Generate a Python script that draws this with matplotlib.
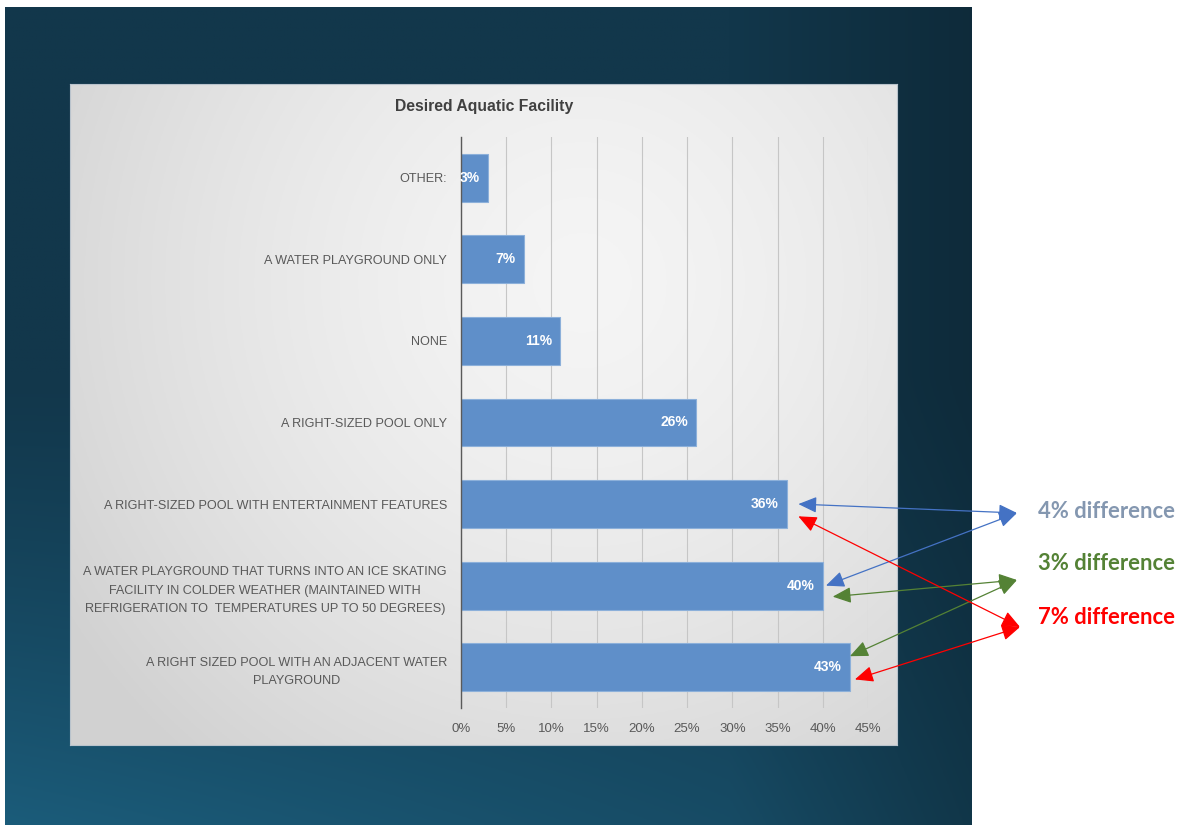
import numpy as np
import matplotlib
import matplotlib.pyplot as plt
from matplotlib.patches import ConnectionPatch
from matplotlib import transforms

W, H = 1182, 825

categories = [
    'OTHER:',
    'A WATER PLAYGROUND ONLY',
    'NONE',
    'A RIGHT-SIZED POOL ONLY',
    'A RIGHT-SIZED POOL WITH ENTERTAINMENT FEATURES',
    'A WATER PLAYGROUND THAT TURNS INTO AN ICE SKATING\nFACILITY IN COLDER WEATHER (MAINTAINED WITH\nREFRIGERATION TO  TEMPERATURES UP TO 50 DEGREES)',
    'A RIGHT SIZED POOL WITH AN ADJACENT WATER\nPLAYGROUND',
]
values = [3, 7, 11, 26, 36, 40, 43]
xticks = [0, 5, 10, 15, 20, 25, 30, 35, 40, 45]

# difference callouts: (text, text colour, arrow colour, [(bar index, dx, dy), ...], head end px, text y px)
notes = [
    ('4% difference', '#8497b0', '#4472c4', [(4, 1.3, 0.0), (5, 0.35, 0.0)], (1017, 513), 511),
    ('3% difference', '#548235', '#548235', [(5, 1.1, -0.135), (6, 0.0, 0.135)], (1017, 580), 564),
    ('7% difference', '#ff0000', '#ff0000', [(4, 1.3, -0.15), (6, 0.55, -0.15)], (1020, 627), 617),
]

label_font = ['Liberation Sans Narrow', 'Liberation Sans', 'DejaVu Sans']


def fx(px):
    return px / W


def fy(py):
    return 1 - py / H


fig = plt.figure(figsize=(W / 100, H / 100), dpi=100)
fig.patch.set_facecolor('white')

# dark slide backdrop
bg = fig.add_axes([fx(5), 0, fx(972) - fx(5), fy(7)])
gx, gy = np.meshgrid(np.linspace(0, 1, 300), np.linspace(0, 1, 300))
top = np.array([0x12, 0x37, 0x4b]) / 255
bot = np.array([0x1b, 0x5c, 0x7a]) / 255
t = np.clip((gy - 0.45) / 0.55, 0, 1) ** 1.2 * (1 - 0.6 * gx)
img = top * (1 - t[..., None]) + bot * t[..., None]
dark = 1 - 0.22 * np.clip((gx - 0.75) / 0.25, 0, 1)
img = img * dark[..., None]
bg.imshow(img, aspect='auto', extent=[0, 1, 1, 0])
bg.axis('off')

# light chart panel
pn = fig.add_axes([fx(70), fy(745), fx(897) - fx(70), fy(84) - fy(745)])
px_, py_ = np.meshgrid(np.linspace(0, 1, 300), np.linspace(0, 1, 300))
r = np.sqrt(((px_ - 0.62) / 0.75) ** 2 + ((py_ - 0.3) / 0.95) ** 2)
shade = 0.96 - 0.14 * np.clip(r, 0, 1) ** 1.5
pn.imshow(np.dstack([shade, shade, shade]), aspect='auto', extent=[0, 1, 1, 0])
pn.set_xticks([])
pn.set_yticks([])
for s in pn.spines.values():
    s.set_color('#b9c3cc')
    s.set_linewidth(0.8)

# bar chart
ax = fig.add_axes([fx(461), fy(708), fx(868) - fx(461), fy(137) - fy(708)])
ax.patch.set_alpha(0)
ypos = np.arange(len(categories))[::-1]
ax.barh(ypos, values, height=0.585, color='#5f8fc9', edgecolor='#8cb0da',
        linewidth=0.8, zorder=3)
ax.set_xlim(0, 45)
ax.set_ylim(-0.5, len(categories) - 0.5)
ax.set_xticks(xticks)
ax.set_xticklabels([f'{v}%' for v in xticks], family=label_font,
                   fontsize=9.5, color='#595959')
ax.set_yticks(ypos)
ax.set_yticklabels(categories, family=label_font, fontsize=9.1, color='#595959',
                   linespacing=1.75)
for lab in ax.get_yticklabels():
    lab.set_multialignment('center')
ax.tick_params(axis='x', length=0, pad=11)
ax.tick_params(axis='y', length=0, pad=10)
ax.grid(axis='x', color='#c6c6c6', linewidth=0.8, zorder=0)
for side in ['top', 'right', 'bottom']:
    ax.spines[side].set_visible(False)
ax.spines['left'].set_color('#5a5a5a')
ax.spines['left'].set_linewidth(1.0)
ax.spines['left'].set_zorder(4)

inside = transforms.offset_copy(ax.transData, fig=fig, x=-6, y=0, units='points')
for v, y in zip(values, ypos):
    ax.text(v, y, f'{v}%', transform=inside, ha='right', va='center',
            color='white', fontsize=10, fontweight='bold', family=label_font,
            zorder=5)

fig.text(fx(484), fy(107), 'Desired Aquatic Facility', ha='center', va='center',
         fontsize=11.3, fontweight='bold', color='#404040',
         family=['Liberation Sans', 'DejaVu Sans'])

# callout text and double-headed arrows
for text, tcol, acol, ends, head, ty in notes:
    fig.text(fx(1038), fy(ty), text, ha='left', va='center', fontsize=15.8,
             fontweight='bold', color=tcol, family=['Lato', 'DejaVu Sans'])
    for idx, dx, dy in ends:
        con = ConnectionPatch(xyA=(values[idx] + dx, ypos[idx] + dy),
                              coordsA=ax.transData,
                              xyB=(fx(head[0]), fy(head[1])),
                              coordsB=fig.transFigure,
                              arrowstyle='<|-|>,head_length=0.8,head_width=0.35',
                              mutation_scale=14, color=acol, linewidth=0.9,
                              zorder=10)
        fig.add_artist(con)

fig.savefig('out.png', dpi=100)
